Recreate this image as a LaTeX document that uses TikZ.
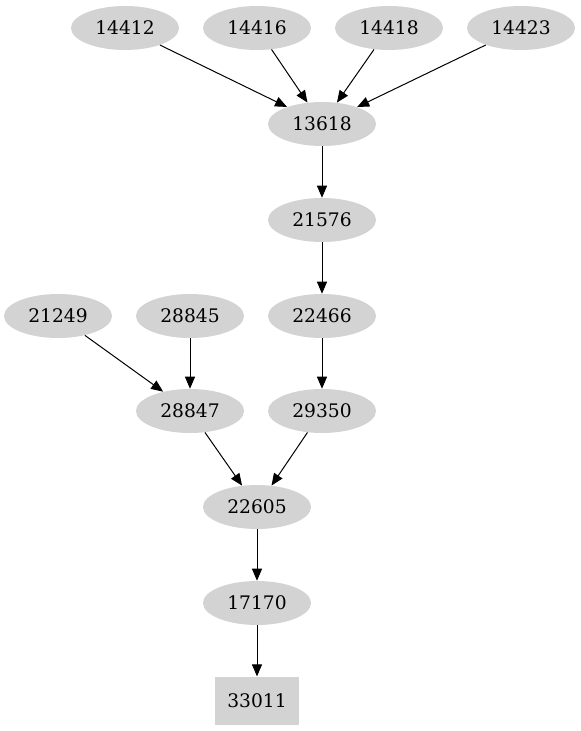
\documentclass[tikz,border=0pt]{standalone}
\usepackage{fontspec}
\setmainfont{DejaVu Serif}
\usetikzlibrary{arrows, arrows.meta}
\definecolor{nodegray}{HTML}{D3D3D3}
\tikzset{vertex/.style = {shape = ellipse, fill = nodegray, inner sep = 0pt, minimum width = 81pt, minimum height = 33pt, font = \fontsize{14pt}{16pt}\selectfont}}
\tikzset{sink/.style = {shape = rectangle, fill = nodegray, inner sep = 0pt, minimum width = 63.5pt, minimum height = 36.5pt, font = \fontsize{14pt}{16pt}\selectfont}}
\tikzset{edge/.style = {-{Triangle[length = 9pt, width = 7.5pt]}, line width = 0.75pt}}
\usetikzlibrary{shapes.geometric}

\begin{document}
\begin{tikzpicture}[x = 0.75pt, y = -0.75pt]
				\useasboundingbox (0, 0) rectangle (581, 731);
				\node[vertex] (v14412) at (125, 28) {14412};
				\node[vertex] (v14416) at (257, 28) {14416};
				\node[vertex] (v14418) at (389, 28) {14418};
				\node[vertex] (v14423) at (521, 28) {14423};
				\node[vertex] (v13618) at (322, 124) {13618};
				\node[vertex] (v21576) at (322, 220) {21576};
				\node[vertex] (v21249) at (58, 316) {21249};
				\node[vertex] (v28845) at (190, 316) {28845};
				\node[vertex] (v22466) at (322, 316) {22466};
				\node[vertex] (v28847) at (190, 411) {28847};
				\node[vertex] (v29350) at (322, 411) {29350};
				\node[vertex] (v22605) at (257, 507) {22605};
				\node[vertex] (v17170) at (257, 603) {17170};
				\node[sink] (v33011) at (257, 701) {33011};
	
				\draw[edge] (v14412) to (v13618);
				\draw[edge] (v14416) to (v13618);
				\draw[edge] (v14418) to (v13618);
				\draw[edge] (v14423) to (v13618);
				\draw[edge] (v13618) to (v21576);
				\draw[edge] (v21576) to (v22466);
				\draw[edge] (v21249) to (v28847);
				\draw[edge] (v28845) to (v28847);
				\draw[edge] (v22466) to (v29350);
				\draw[edge] (v28847) to (v22605);
				\draw[edge] (v29350) to (v22605);
				\draw[edge] (v22605) to (v17170);
				\draw[edge] (v17170) to (v33011);
			\end{tikzpicture}
\end{document}
